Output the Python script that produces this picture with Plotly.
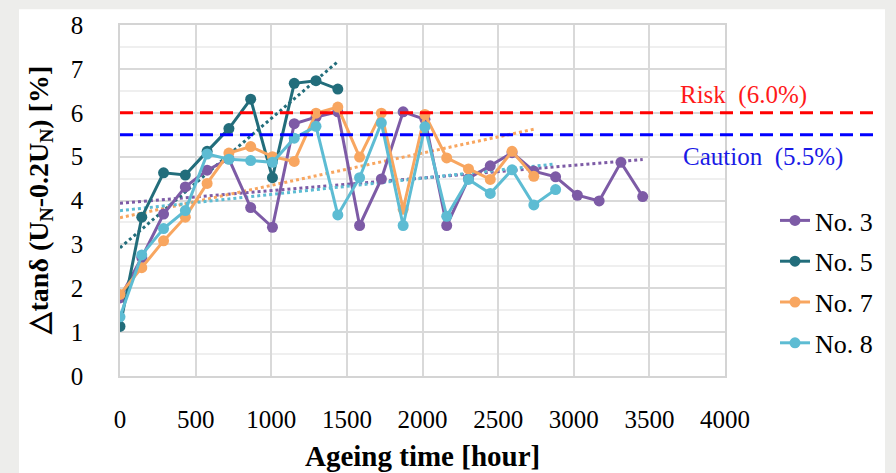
import numpy as np
import plotly.graph_objects as go

# ---------------- data ----------------
time_h = [0, 144, 288, 432, 576, 720, 864, 1008, 1152, 1296, 1440, 1584, 1728,
          1872, 2016, 2160, 2304, 2448, 2592, 2736, 2880, 3024, 3168, 3312, 3456]

no3 = [1.78, 2.70, 3.69, 4.31, 4.69, 4.95, 3.84, 3.39, 5.75, 5.90, 6.02, 3.43, 4.49,
       6.02, 5.85, 3.43, 4.50, 4.79, 5.09, 4.67, 4.54, 4.12, 3.99, 4.87, 4.09]
no5 = [1.13, 3.62, 4.63, 4.58, 5.12, 5.64, 6.31, 4.52, 6.67, 6.73, 6.54]
no7 = [1.86, 2.47, 3.08, 3.62, 4.39, 5.08, 5.23, 5.00, 4.89, 5.99, 6.13, 4.99, 5.99,
       3.80, 5.96, 4.97, 4.72, 4.48, 5.12, 4.55]
no8 = [1.35, 2.76, 3.36, 3.77, 5.06, 4.94, 4.91, 4.87, 5.42, 5.69, 3.67, 4.52, 5.77,
       3.43, 5.68, 3.64, 4.48, 4.16, 4.70, 3.90, 4.25]

series_names = ["No. 3", "No. 5", "No. 7", "No. 8"]
series_values = [no3, no5, no7, no8]
series_colors = ["#7D5BA6", "#226D7B", "#F8A660", "#5DBCD3"]

risk_level = 6.0
caution_level = 5.5
risk_label = "Risk  (6.0%)"
caution_label = "Caution  (5.5%)"

x_ticks = [0, 500, 1000, 1500, 2000, 2500, 3000, 3500, 4000]
y_ticks = [0, 1, 2, 3, 4, 5, 6, 7, 8]

SERIF = "Liberation Serif, Times New Roman, serif"

# ---------------- figure ----------------
fig = go.Figure()

# linear trend lines (dotted)
for name, vals, col in zip(series_names, series_values, series_colors):
    t = np.array(time_h[:len(vals)], dtype=float)
    coef = np.polyfit(t, np.array(vals), 1)
    tx = np.array([t[0], t[-1]])
    fig.add_trace(go.Scatter(
        x=tx, y=np.polyval(coef, tx), mode="lines",
        line=dict(color=col, width=3, dash="dot"),
        showlegend=False, hoverinfo="skip", legendgroup=name))

# data series
for name, vals, col in zip(series_names, series_values, series_colors):
    fig.add_trace(go.Scatter(
        x=time_h[:len(vals)], y=vals, mode="lines+markers", name=name,
        line=dict(color=col, width=3),
        marker=dict(color=col, size=11),
        legendgroup=name))

# plot area in pixels: x 120..725, y 20..376
L, R, T, B = 120, 725, 20, 376
W, H = 896, 473

def px(xp):
    return (xp - L) / (R - L)

def py(yp):
    return (B - yp) / (B - T)

shapes = [
    dict(type="rect", xref="paper", yref="paper", layer="below",
         x0=px(19), x1=px(885), y0=py(480), y1=py(4),
         fillcolor="white", line=dict(width=0)),
    dict(type="line", xref="paper", yref="y", x0=0, x1=px(873),
         y0=risk_level, y1=risk_level,
         line=dict(color="#FF0000", width=3, dash="13px,7px")),
    dict(type="line", xref="paper", yref="y", x0=0, x1=px(873),
         y0=caution_level, y1=caution_level,
         line=dict(color="#0000FF", width=3, dash="13px,7px")),
]

annotations = [
    dict(text=risk_label, xref="paper", yref="paper", x=px(743), y=py(91),
         showarrow=False, font=dict(family=SERIF, size=25, color="#FF1A1A"),
         xanchor="center", yanchor="middle"),
    dict(text=caution_label, xref="paper", yref="paper", x=px(763), y=py(154),
         showarrow=False, font=dict(family=SERIF, size=25, color="#1A1AE6"),
         xanchor="center", yanchor="middle"),
    dict(text="<b>Ageing time [hour]</b>", xref="paper", yref="paper",
         x=0.5, y=py(457), showarrow=False,
         font=dict(family=SERIF, size=29, color="black"),
         xanchor="center", yanchor="middle"),
    dict(text="<b>△tanδ (U<sub>N</sub>-0.2U<sub>N</sub>) [%]</b>",
         xref="paper", yref="paper", x=px(40), y=0.5, textangle=-90,
         showarrow=False, font=dict(family=SERIF, size=28, color="black"),
         xanchor="center", yanchor="middle"),
]

fig.update_layout(
    width=W, height=H,
    margin=dict(l=L, r=W - R, t=T, b=H - B),
    paper_bgcolor="#EDEDEB",
    plot_bgcolor="rgba(0,0,0,0)",
    shapes=shapes,
    annotations=annotations,
    showlegend=True,
    legend=dict(
        xref="container", yref="container",
        x=775 / W, y=1 - 197 / H, xanchor="left", yanchor="top",
        font=dict(family=SERIF, size=26, color="black"),
        bgcolor="rgba(0,0,0,0)", tracegroupgap=4, itemsizing="trace",
    ),
    xaxis=dict(
        range=[0, 4000], tickvals=x_ticks, ticktext=[str(v) for v in x_ticks],
        showgrid=True, gridcolor="#D9D9D9", gridwidth=1.5,
        showline=True, mirror=True, linecolor="#D4D4D4", linewidth=1.5,
        zeroline=False, ticks="", ticklabelstandoff=20,
        tickfont=dict(family=SERIF, size=25, color="black"),
    ),
    yaxis=dict(
        range=[0, 8], tickvals=y_ticks, ticktext=[str(v) for v in y_ticks],
        showgrid=True, gridcolor="#D9D9D9", gridwidth=1.5,
        minor=dict(dtick=0.5, showgrid=True, gridcolor="#EFEFEF", gridwidth=1.5),
        showline=True, mirror=True, linecolor="#D4D4D4", linewidth=1.5,
        zeroline=False, ticks="", ticklabelstandoff=30,
        tickfont=dict(family=SERIF, size=25, color="black"),
    ),
)

fig.write_html(
    "out.html",
    config={"displayModeBar": False},
    post_script="document.body.style.margin='0';document.body.style.overflow='hidden';",
)
